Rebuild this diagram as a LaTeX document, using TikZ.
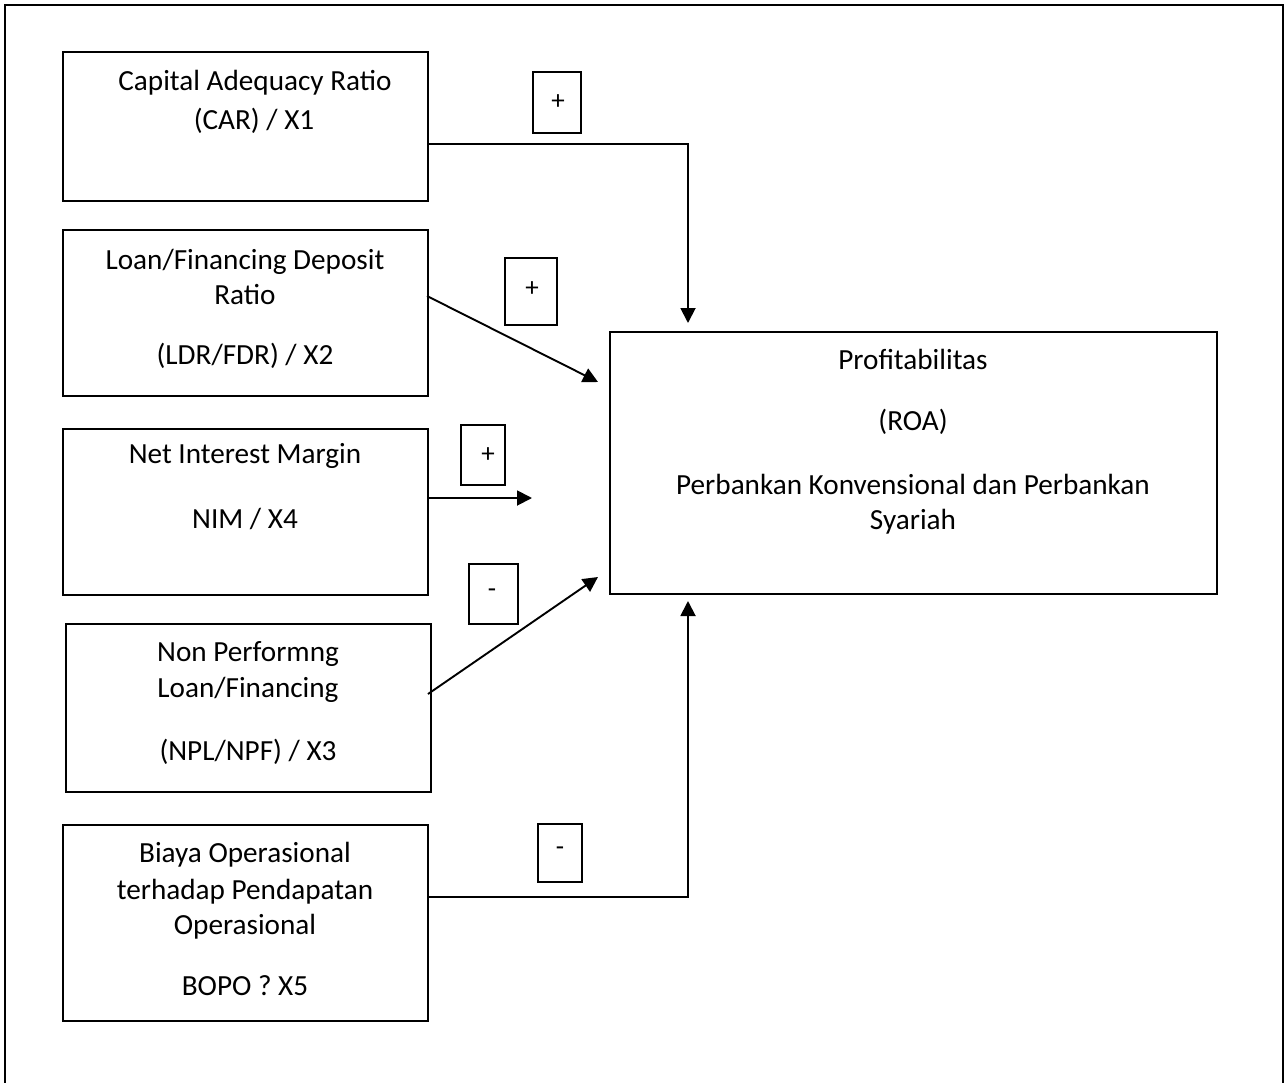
\documentclass[tikz,border=0pt]{standalone}
\usepackage{fontspec}
\setmainfont{Carlito}
\usetikzlibrary{arrows.meta}
\begin{document}
\begin{tikzpicture}[x=1pt,y=-1pt,
  box/.style={draw,line width=1.9pt,inner sep=0pt,anchor=north west},
  lbl/.style={anchor=base,inner sep=0pt,font=\fontsize{29.2}{35}\selectfont},
  sgn/.style={anchor=center,inner sep=0pt,font=\fontsize{27}{32}\selectfont},
  conn/.style={line width=1.9pt},
  arr/.style={conn,-{Triangle[length=15pt,width=15pt]}}
]
\useasboundingbox (0,0) rectangle (1285,1082);
\draw[line width=2.8pt] (5,1085) -- (5,5) -- (1283,5) -- (1283,1085);

% boxes
\node[box,minimum width=365pt,minimum height=149pt] (car) at (62,51) {};
\node[box,minimum width=365pt,minimum height=166pt] (ldr) at (62,229) {};
\node[box,minimum width=365pt,minimum height=166pt] (nim) at (62,428) {};
\node[box,minimum width=365pt,minimum height=168pt] (npl) at (65,623) {};
\node[box,minimum width=365pt,minimum height=196pt] (bopo) at (62,824) {};
\node[box,minimum width=607pt,minimum height=262pt] (roa) at (609,331) {};

% sign boxes
\node[box,minimum width=48pt,minimum height=61pt] (s1) at (532,71) {};
\node[box,minimum width=52pt,minimum height=67pt] (s2) at (504,257) {};
\node[box,minimum width=44pt,minimum height=60pt] (s3) at (460,424) {};
\node[box,minimum width=49pt,minimum height=60pt] (s4) at (468,563) {};
\node[box,minimum width=44pt,minimum height=58pt] (s5) at (537,823) {};
\node[sgn] (s1t) at (558,102) {+};
\node[sgn] (s2t) at (532,289) {+};
\node[sgn] (s3t) at (488,455) {+};
\node[sgn] (s4t) at (492,593) {-};
\node[sgn] (s5t) at (560,851) {-};

% texts
\node[lbl] (car1) at (255,90) {Capital Adequacy Ratio};
\node[lbl] (car2) at (254,129) {(CAR) / X1};
\node[lbl] (ldr1) at (245,269) {Loan/Financing Deposit};
\node[lbl] (ldr2) at (245,304) {Ratio};
\node[lbl] (ldr3) at (245,364) {(LDR/FDR) / X2};
\node[lbl] (nim1) at (245,463) {Net Interest Margin};
\node[lbl] (nim2) at (245,528) {NIM / X4};
\node[lbl] (npl1) at (248,661) {Non Performng};
\node[lbl] (npl2) at (248,697) {Loan/Financing};
\node[lbl] (npl3) at (248,760) {(NPL/NPF) / X3};
\node[lbl] (bopo1) at (245,862) {Biaya Operasional};
\node[lbl] (bopo2) at (245,899) {terhadap Pendapatan};
\node[lbl] (bopo3) at (245,934) {Operasional};
\node[lbl] (bopo4) at (245,995) {BOPO ? X5};
\node[lbl] (roa1) at (913,369) {Profitabilitas};
\node[lbl] (roa2) at (913,430) {(ROA)};
\node[lbl] (roa3) at (913,494) {Perbankan Konvensional dan Perbankan};
\node[lbl] (roa4) at (913,529) {Syariah};

% connector end points
\coordinate (carout) at (427,144);
\coordinate (roatop) at (688,323);
\coordinate (ldrout) at (427,296);
\coordinate (ldrin) at (598,382);
\coordinate (nimout) at (427,498);
\coordinate (nimend) at (532,498);
\coordinate (nplout) at (428,694);
\coordinate (nplin) at (598,577);
\coordinate (bopoout) at (427,897);
\coordinate (roabot) at (688,601);

\draw[arr] (carout) -| (roatop);
\draw[arr] (ldrout) -- (ldrin);
\draw[arr] (nimout) -- (nimend);
\draw[arr] (nplout) -- (nplin);
\draw[arr] (bopoout) -| (roabot);
\end{tikzpicture}
\end{document}
